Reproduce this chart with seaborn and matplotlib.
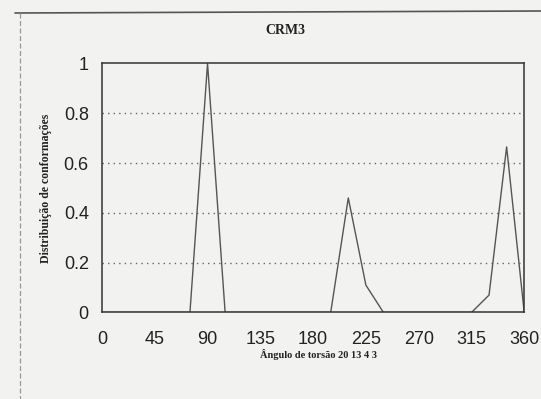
import matplotlib
matplotlib.use("Agg")
import matplotlib.pyplot as plt
import matplotlib.lines as mlines
import seaborn as sns
import pandas as pd
import numpy as np

# Torsion angle (degrees) and conformation distribution
angles = [0, 15, 30, 45, 60, 75, 90, 105, 120, 135, 150, 165, 180,
          195, 210, 225, 240, 255, 270, 285, 300, 315, 330, 345, 360]
distribution = [0, 0, 0, 0, 0, 0, 1.0, 0, 0, 0, 0, 0, 0,
                0, 0.46, 0.11, 0, 0, 0, 0, 0, 0, 0.07, 0.665, 0]

x_ticks = [0, 45, 90, 135, 180, 225, 270, 315, 360]
y_ticks = [0, 0.2, 0.4, 0.6, 0.8, 1]
y_tick_labels = ["0", "0.2", "0.4", "0.6", "0.8", "1"]

df = pd.DataFrame({"angle": angles, "dist": distribution})

sns.set_style("white")
plt.rcParams["font.family"] = ["Liberation Sans", "DejaVu Sans"]

paper = "#f2f2f0"
fig = plt.figure(figsize=(5.41, 3.99), dpi=100, facecolor=paper)
ax = fig.add_axes([0.1885, 0.2168, 0.7805, 0.6241])
ax.set_facecolor(paper)

sns.lineplot(data=df, x="angle", y="dist", ax=ax, color="#555555", linewidth=1.0)

ax.set_xlim(0, 360)
ax.set_ylim(0, 1)
ax.set_xticks(x_ticks)
ax.set_xticks(np.arange(0, 361, 22.5), minor=True)
ax.set_yticks(y_ticks)
ax.set_yticklabels(y_tick_labels)
ax.set_yticks(np.arange(0, 1.01, 0.1), minor=True)
ax.tick_params(axis="both", which="major", direction="inout", length=7, width=1,
               labelsize=13, color="#333333", labelcolor="#222222", pad=6)
ax.tick_params(axis="both", which="minor", direction="inout", length=4, width=0.8,
               color="#444444")
ax.tick_params(axis="x", which="major", pad=10)

for yv in [0.2, 0.4, 0.6, 0.8]:
    ax.axhline(yv, color="#666666", linestyle=(0, (1, 3)), linewidth=1.0, zorder=0)

for side in ["top", "right", "left", "bottom"]:
    ax.spines[side].set_visible(True)
    ax.spines[side].set_color("#333333")
    ax.spines[side].set_linewidth(1.1)

ax.set_xlabel("")
ax.set_ylabel("")

serif = ["Liberation Serif", "DejaVu Serif"]
fig.text(285 / 541, 1 - 30 / 399, "CRM3", ha="center", va="center",
         fontsize=10, fontweight="bold", family=serif, color="#222222")
fig.text(318 / 541, 1 - 354 / 399, "Ângulo de torsão 20 13 4 3", ha="center",
         va="center", fontsize=7.5, fontweight="bold", family=serif, color="#222222")
fig.text(46 / 541, 1 - 188 / 399, "Distribuição de conformações", ha="center",
         va="center", rotation=90, fontsize=8.5, fontweight="bold", family=serif,
         color="#222222")

# page frame from the scan
fig.add_artist(mlines.Line2D([15 / 541, 1], [1 - 13 / 399, 1 - 11 / 399],
                             transform=fig.transFigure, color="#555555", linewidth=1.2))
fig.add_artist(mlines.Line2D([20 / 541, 20 / 541], [1 - 13 / 399, 0],
                             transform=fig.transFigure, color="#999999",
                             linewidth=0.9, linestyle=(0, (4, 2))))

fig.savefig("out.png", dpi=100, facecolor=paper)
